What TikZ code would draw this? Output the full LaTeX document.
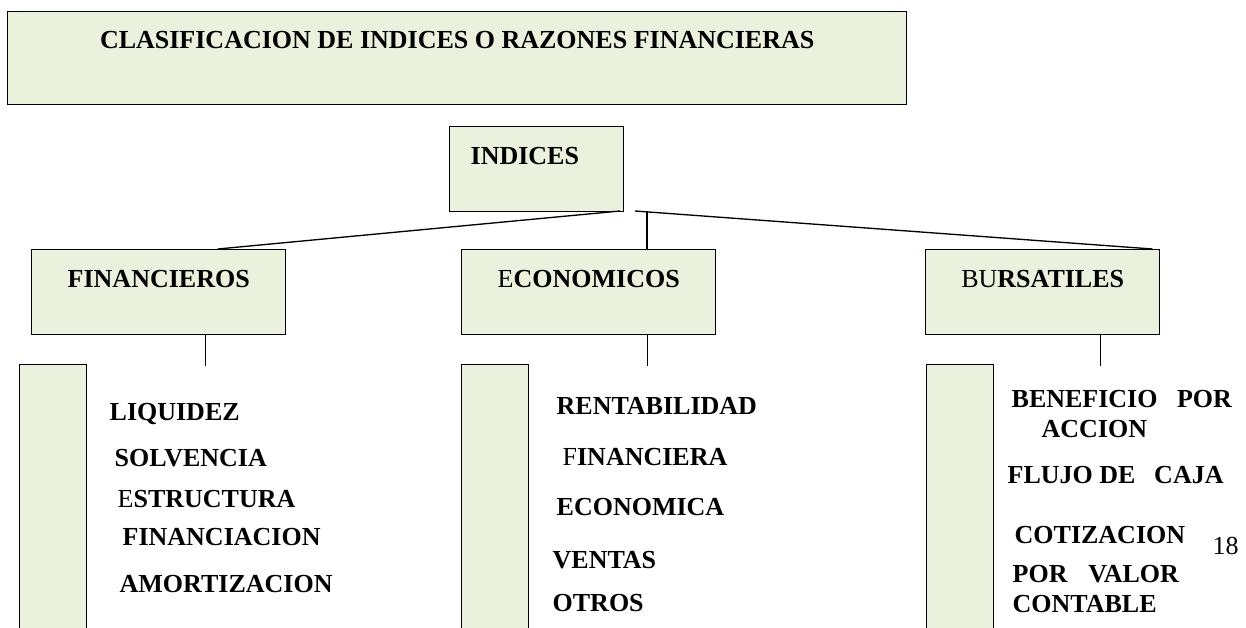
\documentclass[tikz,border=0pt]{standalone}
\usepackage{fontspec}
\setmainfont{Liberation Serif}
\usetikzlibrary{positioning,calc}
\definecolor{boxgreen}{HTML}{EAF1DD}

\begin{document}
\begin{tikzpicture}[
x = 0.75pt,
y = -0.75pt,
line width = 1pt,
node distance = 15pt,
every node/.style = {
	font = \fontsize{19.5}{23}\selectfont\bfseries,
	inner sep = 0pt
},
greenbox/.style = {
	draw,
	fill = boxgreen,
	anchor = north west,
	line width = 1.1pt
},
headbox/.style = {
	greenbox,
	minimum width = 190.5pt,
	minimum height = 63.75pt
},
colbar/.style = {
	greenbox,
	minimum width = 50.25pt,
	minimum height = 207pt
},
entry/.style = {
	anchor = base west
}
]

\useasboundingbox (0,0) rectangle (1246,628);
\clip (0,0) rectangle (1246,628);

\node (title) [greenbox, minimum width = 674.25pt, minimum height = 69.75pt] at (7,11) {};
\node (title_text) [below = 14.6pt of title.north] {CLASIFICACION DE INDICES O RAZONES FINANCIERAS};

\node (indices) [greenbox, minimum width = 130.5pt, minimum height = 63.75pt] at (449,126) {};
\node (indices_text) [below right = 15.3pt and 15.75pt of indices.north west] {INDICES};

\node (fin) [headbox] at (31,249) {};
\node (fin_text) [below = 15.3pt of fin.north] {FINANCIEROS};
\node (eco) [headbox] at (461,249) {};
\node (eco_text) [below = 15.3pt of eco.north] {{\mdseries E}CONOMICOS};
\node (bur) [headbox, minimum width = 175.5pt] at (925,249) {};
\node (bur_text) [below = 15.3pt of bur.north] {{\mdseries BU}RSATILES};

% lines from INDICES down to the three groups
\coordinate (split_l) at (620,211);
\coordinate (split_m) at (647,211);
\coordinate (split_r) at (635,211);
\draw (split_l) -- ($(fin.north)+(59,0)$);
\draw (split_m) -- (split_m |- eco.north);
\draw (split_r) -- ($(bur.north east)+(-8,0)$);

\draw ($(fin.south)+(47,0)$) -- ++(0,31);
\draw ($(eco.south)+(59,0)$) -- ++(0,31);
\draw ($(bur.south)+(58,0)$) -- ++(0,31);

\node (fin_bar) [colbar] at (19,364) {};
\node (eco_bar) [colbar] at (461,364) {};
\node (bur_bar) [colbar] at (926,364) {};

% financieros
\node (liquidez) [entry] at (109,420) {LIQUIDEZ};
\node (solvencia) [entry] at (114,466) {SOLVENCIA};
\node (estructura) [entry] at (117,507) {{\mdseries E}STRUCTURA};
\node (financiacion) [entry] at (122,545) {FINANCIACION};
\node (amortizacion) [entry] at (119,592) {AMORTIZACION};

% economicos
\node (rentabilidad) [entry] at (556,414) {RENTABILIDAD};
\node (financiera) [entry] at (562,465) {{\mdseries F}INANCIERA};
\node (economica) [entry] at (556,515) {ECONOMICA};
\node (ventas) [entry] at (552,568) {VENTAS};
\node (otros) [entry] at (552,611) {OTROS};

% bursatiles
\node (beneficio) [entry] at (1011,407) {BENEFICIO\hspace{.75em}POR};
\node (accion) [entry] at (1041,437) {ACCION};
\node (flujo) [entry] at (1007,483) {FLUJO DE\hspace{.72em}CAJA};
\node (cotizacion) [entry] at (1014,543) {COTIZACION};
\node (valor) [entry] at (1012,582) {POR\hspace{.8em}VALOR};
\node (contable) [entry] at (1012,612) {CONTABLE};

\node (page_no) [entry, font = \fontsize{19.5}{23}\selectfont\mdseries] at (1212,554) {18};

\end{tikzpicture}
\end{document}
